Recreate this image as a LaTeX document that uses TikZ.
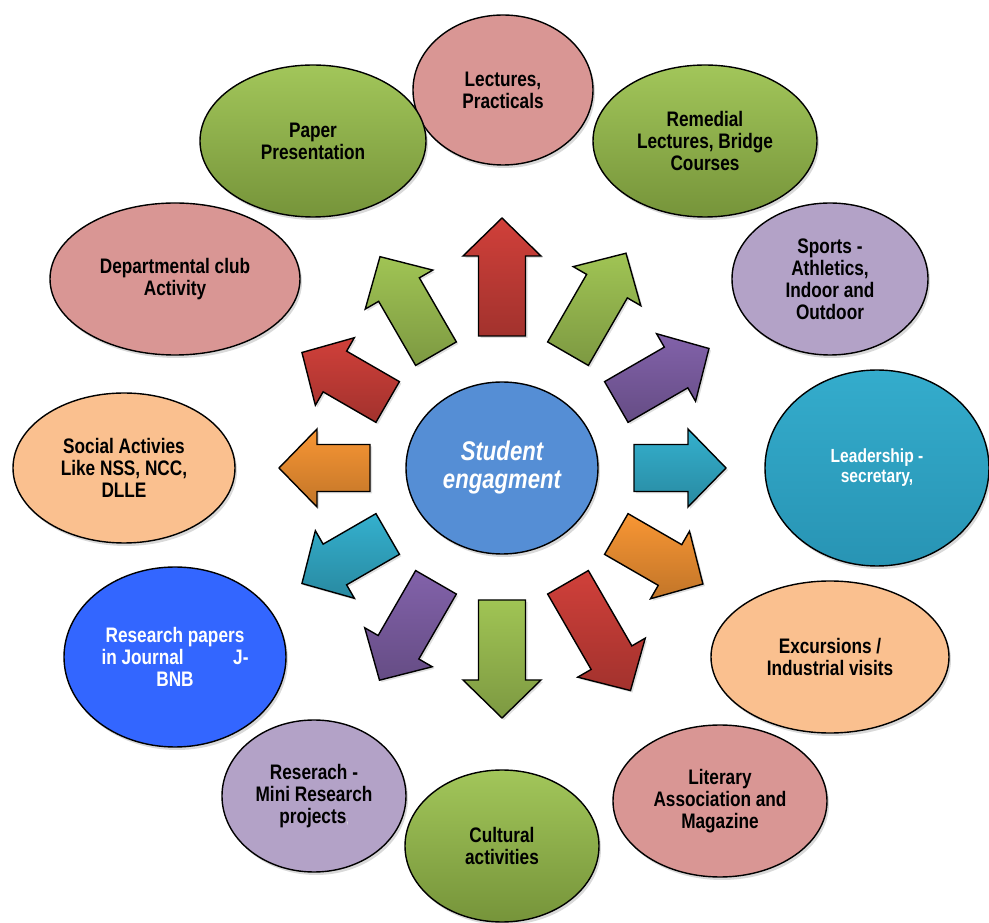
\documentclass[tikz,border=0pt]{standalone}
\usepackage{fontspec}
\setmainfont{Liberation Sans}[FakeStretch=0.82]
\usetikzlibrary{shapes.geometric,shadows}
\definecolor{pinkc}{RGB}{217,150,148}
\definecolor{greenup}{RGB}{162,198,90}
\definecolor{greendn}{RGB}{118,148,58}
\definecolor{lavc}{RGB}{179,162,199}
\definecolor{tealup}{RGB}{52,172,204}
\definecolor{tealdn}{RGB}{40,148,180}
\definecolor{peachc}{RGB}{250,192,143}
\definecolor{bluec}{RGB}{51,102,255}
\definecolor{hubc}{RGB}{85,142,213}
\definecolor{arrred}{RGB}{208,64,58}
\definecolor{arrgreen}{RGB}{160,196,84}
\definecolor{arrpurple}{RGB}{130,98,170}
\definecolor{arrteal}{RGB}{52,176,206}
\definecolor{arrorange}{RGB}{248,150,52}

\begin{document}
\begin{tikzpicture}[x=1pt,y=1pt,
    bubble/.style={ellipse, draw=black, line width=1.4pt, inner sep=0pt, align=center,
        font=\bfseries\fontsize{21}{22}\selectfont,
        drop shadow={opacity=0.3, shadow xshift=2pt, shadow yshift=-3pt}},
    greenbub/.style={bubble, top color=greenup, bottom color=greendn},
    arrowbox/.style={draw=black, line width=1.4pt, line join=miter,
        drop shadow={opacity=0.25, shadow xshift=2pt, shadow yshift=-2pt}}]
    \useasboundingbox (0,0) rectangle (989,922);

    \node[bubble, fill=hubc, text=white, minimum width=192, minimum height=172,
        font=\bfseries\itshape\fontsize{27}{28}\selectfont](0) at (502,454) {Student\\engagment};

    \foreach \a/\l/\c in {0/92/arrteal, 30/107/arrpurple, 60/116/arrgreen, 90/118/arrred,
        120/112/arrgreen, 150/99/arrred, 180/91/arrorange, 210/99/arrteal,
        240/113/arrpurple, 270/118/arrgreen, 300/125/arrred, 330/100/arrorange}
        \draw[arrowbox, top color=\c, bottom color=\c!78!black, shift={(0.center)}, rotate=\a]
            (132,-23.5) -- ({94+\l},-23.5) -- ({94+\l},-39) -- ({132+\l},0)
            -- ({94+\l},39) -- ({94+\l},23.5) -- (132,23.5) -- cycle;

    \node[bubble, fill=pinkc, minimum width=180, minimum height=150](1) at (503,832) {Lectures,\\Practicals};
    \node[greenbub, minimum width=224, minimum height=152](2) at (705,781) {Remedial\\Lectures, Bridge\\Courses};
    \node[bubble, fill=lavc, minimum width=196, minimum height=152](3) at (830,643) {Sports -\\Athletics,\\Indoor and\\Outdoor};
    \node[bubble, top color=tealup, bottom color=tealdn, text=white, minimum width=224, minimum height=196,
        font=\bfseries\fontsize{19}{20}\selectfont](4) at (877,454) {Leadership -\\secretary,};
    \node[bubble, fill=peachc, minimum width=238, minimum height=152](5) at (830,265) {Excursions /\\Industrial visits};
    \node[bubble, fill=pinkc, minimum width=214, minimum height=152](6) at (720,121) {Literary\\Association and\\Magazine};
    \node[greenbub, minimum width=194, minimum height=152](7) at (502,76) {Cultural\\activities};
    \node[bubble, fill=lavc, minimum width=184, minimum height=152](8) at (314,126)
        {Reserach -\\Mini Research\\projects{\fontsize{10}{10}\selectfont\color{white!70!gray},}};
    \node[bubble, fill=bluec, text=white, minimum width=222, minimum height=180](9) at (175,265)
        {Research papers\\\hbox to 147pt{in Journal\hfill J-}\\BNB};
    \node[bubble, fill=peachc, minimum width=222, minimum height=150](10) at (124,454) {Social Activies\\Like NSS, NCC,\\DLLE};
    \node[bubble, fill=pinkc, minimum width=250, minimum height=152](11) at (175,643) {Departmental club\\Activity};
    \node[greenbub, minimum width=226, minimum height=152](12) at (313,781) {Paper\\Presentation};
\end{tikzpicture}
\end{document}
